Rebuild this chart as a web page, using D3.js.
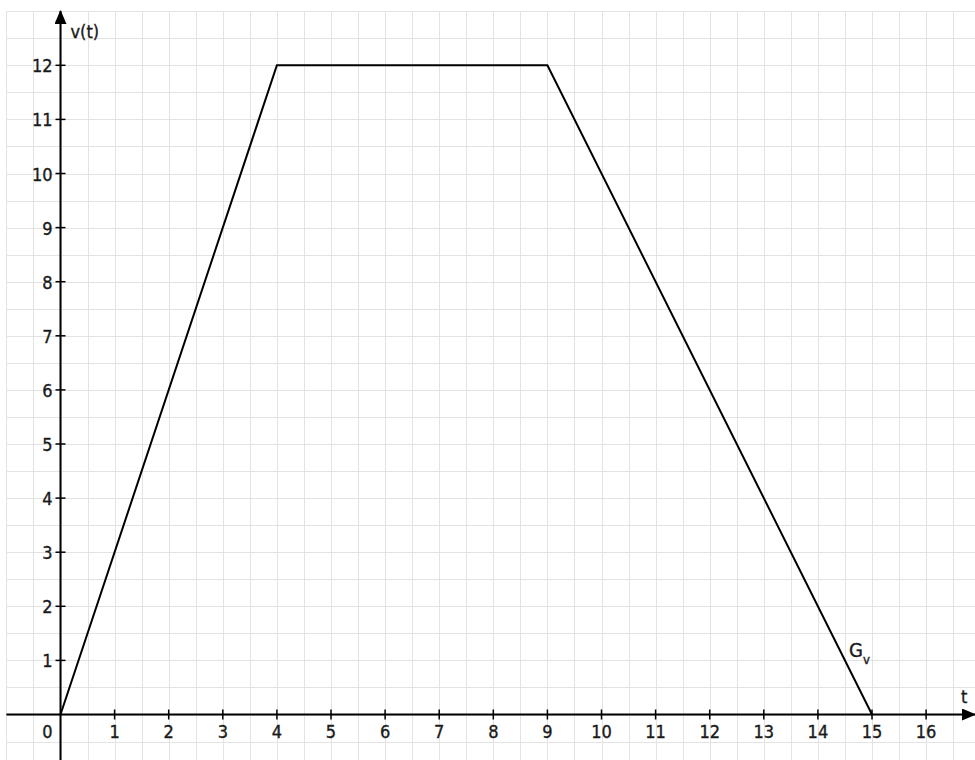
<!DOCTYPE html>
<html>
<head>
<meta charset="utf-8">
<script src="https://cdn.jsdelivr.net/npm/d3@7"></script>
<style>
  html, body { margin: 0; padding: 0; background: #fff; }
  svg { display: block; }
  text { stroke: #1a1a1a; stroke-width: 0.35px; }
</style>
</head>
<body>
<div id="chart"></div>
<script>
const tValues = [0, 4, 9, 15]
const vValues = [0, 12, 12, 0]
const xTicks = [0, 1, 2, 3, 4, 5, 6, 7, 8, 9, 10, 11, 12, 13, 14, 15, 16]
const yTicks = [1, 2, 3, 4, 5, 6, 7, 8, 9, 10, 11, 12]

const width = 975
const height = 760
const unit = 54.1
const x0 = 60.5
const y0 = 714.5

const xScale = d3.scaleLinear().domain([0, 1]).range([x0, x0 + unit])
const yScale = d3.scaleLinear().domain([0, 1]).range([y0, y0 - unit])

const svg = d3.select('#chart').append('svg').attr('width', width).attr('height', height)

// grid, every half unit
const xGrid = d3.range(-1, 17.01, 0.5)
const yGrid = d3.range(-1, 13.01, 0.5)
const grid = svg.append('g').attr('stroke', '#e3e3e3').attr('stroke-width', 1)
grid.selectAll('line.v')
  .data(xGrid)
  .join('line')
  .attr('x1', (d) => Math.round(xScale(d)) + 0.5)
  .attr('x2', (d) => Math.round(xScale(d)) + 0.5)
  .attr('y1', yScale(13))
  .attr('y2', height)
grid.selectAll('line.h')
  .data(yGrid)
  .join('line')
  .attr('y1', (d) => Math.round(yScale(d)) + 0.5)
  .attr('y2', (d) => Math.round(yScale(d)) + 0.5)
  .attr('x1', xScale(-1))
  .attr('x2', width)

// arrow heads
const defs = svg.append('defs')
defs.append('marker')
  .attr('id', 'arrow')
  .attr('viewBox', '0 0 14 12')
  .attr('refX', 13)
  .attr('refY', 6)
  .attr('markerWidth', 14)
  .attr('markerHeight', 12)
  .attr('markerUnits', 'userSpaceOnUse')
  .attr('orient', 'auto')
  .append('path')
  .attr('d', 'M0,0 L14,6 L0,12 Z')
  .attr('fill', '#000')

// axes
svg.append('line')
  .attr('x1', xScale(-1)).attr('x2', width)
  .attr('y1', y0).attr('y2', y0)
  .attr('stroke', '#000').attr('stroke-width', 2)
  .attr('marker-end', 'url(#arrow)')
svg.append('line')
  .attr('x1', x0).attr('x2', x0)
  .attr('y1', height).attr('y2', 11)
  .attr('stroke', '#000').attr('stroke-width', 2)
  .attr('marker-end', 'url(#arrow)')

const font = '"DejaVu Sans Condensed", "DejaVu Sans", sans-serif'
const textColor = '#1a1a1a'

// x ticks
const xt = svg.append('g')
xt.selectAll('line')
  .data(xTicks.filter((d) => d !== 0))
  .join('line')
  .attr('x1', (d) => xScale(d)).attr('x2', (d) => xScale(d))
  .attr('y1', y0 - 5).attr('y2', y0 + 5)
  .attr('stroke', '#000').attr('stroke-width', 1.5)
xt.selectAll('text')
  .data(xTicks)
  .join('text')
  .attr('x', (d) => (d === 0 ? x0 - 13 : xScale(d)))
  .attr('y', y0 + 23)
  .attr('text-anchor', 'middle')
  .attr('font-family', font)
  .attr('font-size', 18)
  .attr('fill', textColor)
  .text((d) => d)

// y ticks
const yt = svg.append('g')
yt.selectAll('line')
  .data(yTicks)
  .join('line')
  .attr('x1', x0 - 5).attr('x2', x0 + 5)
  .attr('y1', (d) => yScale(d)).attr('y2', (d) => yScale(d))
  .attr('stroke', '#000').attr('stroke-width', 1.5)
yt.selectAll('text')
  .data(yTicks)
  .join('text')
  .attr('x', x0 - 8)
  .attr('y', (d) => yScale(d) + 7)
  .attr('text-anchor', 'end')
  .attr('font-family', font)
  .attr('font-size', 18)
  .attr('fill', textColor)
  .text((d) => d)

// axis labels
svg.append('text')
  .attr('x', x0 + 10).attr('y', 38)
  .attr('font-family', font).attr('font-size', 18).attr('fill', textColor)
  .text('v(t)')
svg.append('text')
  .attr('x', 961).attr('y', 703)
  .attr('font-family', font).attr('font-size', 18).attr('fill', textColor)
  .text('t')

// graph
const line = d3.line().x((d) => xScale(d[0])).y((d) => yScale(d[1]))
svg.append('path')
  .datum(tValues.map((t, i) => [t, vValues[i]]))
  .attr('d', line)
  .attr('fill', 'none')
  .attr('stroke', '#000')
  .attr('stroke-width', 2)
  .attr('stroke-linejoin', 'miter')

const gLabel = svg.append('text')
  .attr('x', 849).attr('y', 657)
  .attr('font-family', font).attr('font-size', 20).attr('fill', textColor)
gLabel.append('tspan').text('G')
gLabel.append('tspan').attr('font-size', 13).attr('dy', 7).text('v')
</script>
</body>
</html>
